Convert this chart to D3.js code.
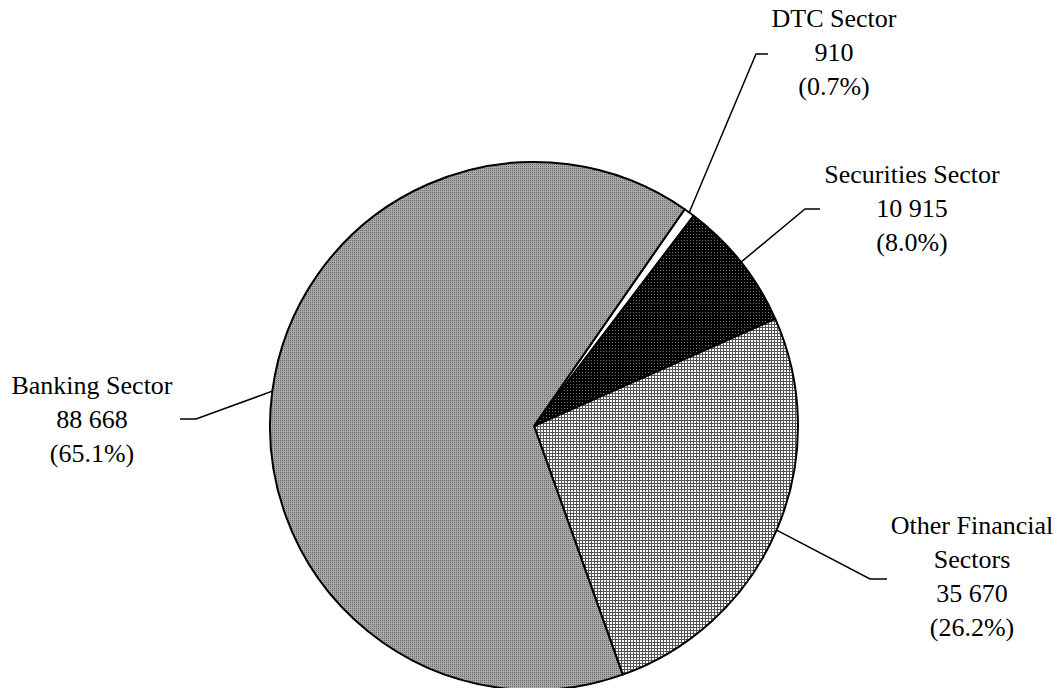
<!DOCTYPE html>
<html>
<head>
<meta charset="utf-8">
<script src="https://cdn.jsdelivr.net/npm/d3@7/dist/d3.min.js"></script>
<style>
  html, body { margin: 0; padding: 0; background: #fff; }
  svg { display: block; }
</style>
</head>
<body>
<svg id="chart" width="1062" height="688"></svg>
<script>
// ---- data ----
const categories = ["DTC Sector", "Securities Sector", "Other Financial Sectors", "Banking Sector"];
const labelLines = [["DTC Sector"], ["Securities Sector"], ["Other Financial", "Sectors"], ["Banking Sector"]];
const values = [910, 10915, 35670, 88668];
const valueLabels = ["910", "10 915", "35 670", "88 668"];
const percentLabels = ["(0.7%)", "(8.0%)", "(26.2%)", "(65.1%)"];

// ---- layout (not data) ----
const W = 1062, H = 688;
const cx = 534, cy = 426, R = 264;
const startAngle = 34.8 * Math.PI / 180;
const fills = ["#ffffff", "url(#patSec)", "url(#patOther)", "url(#patBank)"];
// label block anchor (center x, first baseline), elbow point, line end point
const labelLayout = [
  { x: 834, y: 27, elbow: [756, 54], end: [768, 54] },
  { x: 912, y: 183, elbow: [805, 209], end: [820, 209] },
  { x: 972, y: 534, elbow: [870, 579], end: [887, 579] },
  { x: 92, y: 394, elbow: [196, 419], end: [180, 419] }
];
const lineH = 34;

const svg = d3.select("#chart");
const defs = svg.append("defs");

// Banking: gray fine dot texture
const pb = defs.append("pattern").attr("id", "patBank").attr("patternUnits", "userSpaceOnUse")
  .attr("width", 2).attr("height", 2);
pb.append("rect").attr("width", 2).attr("height", 2).attr("fill", "#a8a8a8");
pb.append("rect").attr("width", 1).attr("height", 1).attr("fill", "#6a6a6a");

// Securities: black with light dots
const ps = defs.append("pattern").attr("id", "patSec").attr("patternUnits", "userSpaceOnUse")
  .attr("width", 3).attr("height", 3);
ps.append("rect").attr("width", 3).attr("height", 3).attr("fill", "#000");
ps.append("rect").attr("width", 1).attr("height", 1).attr("fill", "#7a7a7a");

// Other: fine grid
const po = defs.append("pattern").attr("id", "patOther").attr("patternUnits", "userSpaceOnUse")
  .attr("width", 3).attr("height", 3);
po.append("rect").attr("width", 3).attr("height", 3).attr("fill", "#fff");
po.append("rect").attr("width", 3).attr("height", 1).attr("fill", "#555");
po.append("rect").attr("width", 1).attr("height", 3).attr("fill", "#555");

const data = categories.map((c, i) => ({ c, v: values[i], i }));
const pie = d3.pie().value(d => d.v).sort(null)
  .startAngle(startAngle).endAngle(startAngle + 2 * Math.PI);
const arcs = pie(data);
const arc = d3.arc().innerRadius(0).outerRadius(R);

const g = svg.append("g").attr("transform", `translate(${cx},${cy})`);
g.selectAll("path.slice").data(arcs).enter().append("path")
  .attr("class", "slice")
  .attr("d", arc)
  .attr("fill", d => fills[d.data.i])
  .attr("stroke", "#000")
  .attr("stroke-width", 2)
  .attr("stroke-linejoin", "round");

// leader lines
const leaders = svg.append("g");
arcs.forEach(a => {
  const L = labelLayout[a.data.i];
  const mid = (a.startAngle + a.endAngle) / 2;
  const p0 = [cx + R * Math.sin(mid), cy - R * Math.cos(mid)];
  leaders.append("polyline")
    .attr("points", [p0, L.elbow, L.end].map(p => p.join(",")).join(" "))
    .attr("fill", "none").attr("stroke", "#000").attr("stroke-width", 1.5);
});

// labels
const labels = svg.append("g")
  .attr("font-family", "'Liberation Serif', 'Times New Roman', serif")
  .attr("font-size", 26).attr("fill", "#000").attr("text-anchor", "middle");
data.forEach(d => {
  const L = labelLayout[d.i];
  const lines = [...labelLines[d.i], valueLabels[d.i], percentLabels[d.i]];
  const t = labels.append("text");
  lines.forEach((s, k) => {
    t.append("tspan").attr("x", L.x).attr("y", L.y + k * lineH).text(s);
  });
});
</script>
</body>
</html>
